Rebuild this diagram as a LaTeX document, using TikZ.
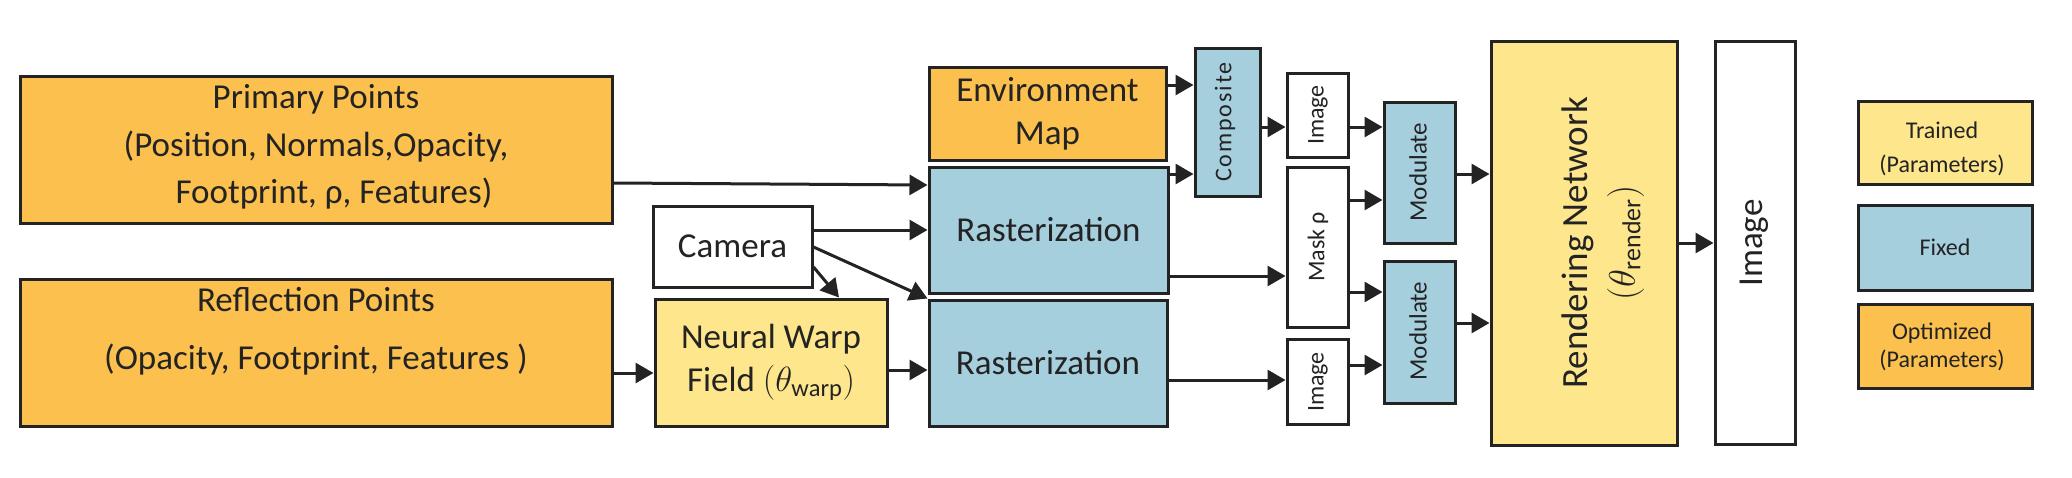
\RequirePackage{fix-cm}
\documentclass[tikz,border=0pt]{standalone}
\usepackage{fontspec}
\setmainfont{Carlito}
\usetikzlibrary{arrows.meta,calc}
\definecolor{optc}{RGB}{251,192,78}
\definecolor{trnc}{RGB}{253,230,140}
\definecolor{fixc}{RGB}{166,207,222}
\definecolor{linec}{RGB}{35,35,35}
\begin{document}
\begin{tikzpicture}[x=1pt,y=-1pt,
  box/.style={draw=linec,line width=3pt,inner sep=0pt,align=center},
  optbox/.style={box,fill=optc},
  trnbox/.style={box,fill=trnc},
  fixbox/.style={box,fill=fixc},
  whitebox/.style={box,fill=white},
  bigtxt/.style={font=\fontsize{35}{46}\selectfont,align=center,inner sep=0pt,text=linec},
  smalltxt/.style={font=\fontsize{24}{30}\selectfont,align=center,inner sep=0pt,text=linec},
  conn/.style={draw=linec,line width=3pt,-{Triangle[length=18pt,width=20pt]}}]
\useasboundingbox (0,0) rectangle (2072,477);

% left boxes
\node[optbox,minimum width=592pt,minimum height=147pt] (prim) at (316,149.5) {};
\node[bigtxt,font=\fontsize{35}{47.5}\selectfont] (primtxt) at (316,147) {Primary Points\\(Position, Normals,Opacity,\\\hspace*{36pt}Footprint, ρ, Features)};
\node[optbox,minimum width=592pt,minimum height=147pt] (refl) at (316,352.5) {};
\node[bigtxt,font=\fontsize{35}{58}\selectfont] (refltxt) at (316,331) {Reflection Points\\(Opacity, Footprint, Features )};

\node[whitebox,minimum width=159pt,minimum height=81pt,bigtxt] (cam) at (732.5,246.5) {Camera};
\node[trnbox,minimum width=232pt,minimum height=127pt,bigtxt,font=\fontsize{35}{43}\selectfont] (warp) at (771,362.5) {Neural Warp\\Field $(\theta_{\mathrm{warp}})$};

\node[optbox,minimum width=237pt,minimum height=93pt,bigtxt,font=\fontsize{35}{43}\selectfont] (env) at (1047.5,113.5) {Environment\\Map};
\node[fixbox,minimum width=239pt,minimum height=126pt,bigtxt] (ras1) at (1048.5,230) {Rasterization};
\node[fixbox,minimum width=238pt,minimum height=126pt,bigtxt] (ras2) at (1048,363) {Rasterization};

\node[fixbox,minimum width=65pt,minimum height=148pt] (comp) at (1227.5,122) {};
\node[smalltxt,rotate=90] (comptxt) at (1225,122) {\addfontfeature{LetterSpace=8}Composite};

\node[whitebox,minimum width=61pt,minimum height=84pt] (img1) at (1317.5,115) {};
\node[smalltxt,rotate=90] (img1txt) at (1318,115) {Image};
\node[whitebox,minimum width=61pt,minimum height=160pt] (mask) at (1317.5,247) {};
\node[smalltxt,rotate=90] (masktxt) at (1318,247) {Mask ρ};
\node[whitebox,minimum width=61pt,minimum height=85pt] (img2) at (1317.5,381.5) {};
\node[smalltxt,rotate=90] (img2txt) at (1318,382) {Image};

\node[fixbox,minimum width=71pt,minimum height=141pt] (mod1) at (1419.5,172.5) {};
\node[smalltxt,font=\fontsize{25}{30}\selectfont,rotate=90] (mod1txt) at (1418,172) {Modulate};
\node[fixbox,minimum width=71pt,minimum height=142pt] (mod2) at (1419.5,332) {};
\node[smalltxt,font=\fontsize{25}{30}\selectfont,rotate=90] (mod2txt) at (1418,331) {Modulate};

\node[trnbox,minimum width=186pt,minimum height=404pt] (rend) at (1584,243) {};
\node[bigtxt,font=\fontsize{37}{47}\selectfont,rotate=90] (rendtxt) at (1603,243) {Rendering Network\\$(\theta_{\mathrm{render}})$};

\node[whitebox,minimum width=80pt,minimum height=403pt] (out) at (1755,242.5) {};
\node[bigtxt,rotate=90] (outtxt) at (1754,243) {Image};

% legend
\node[trnbox,minimum width=174pt,minimum height=83pt] (ltr) at (1945,142.5) {};
\node[smalltxt,font=\fontsize{24}{34}\selectfont] (ltrtxt) at (1942,149) {Trained\\(Parameters)};
\node[fixbox,minimum width=174pt,minimum height=85pt,smalltxt] (lfx) at (1945,247.5) {Fixed};
\node[optbox,minimum width=174pt,minimum height=84pt] (lop) at (1945,346) {};
\node[smalltxt,font=\fontsize{24}{28}\selectfont] (loptxt) at (1942,347) {Optimized\\(Parameters)};

% connectors
\draw[conn] (prim.east |- 0,183) -- (ras1.west |- 0,185);
\draw[conn] (env.east |- 0,85) -- (comp.west |- 0,85);
\draw[conn] (ras1.east |- 0,174) -- (comp.west |- 0,174);
\draw[conn] (cam.east |- 0,230) -- (ras1.west |- 0,230);
\draw[conn] (cam.east |- 0,247) -- (ras2.north west);
\draw[conn] (cam.east |- 0,267) -- (839,0 |- warp.north);
\draw[conn] (refl.east |- 0,373) -- (warp.west |- 0,373);
\draw[conn] (warp.east |- 0,370) -- (ras2.west |- 0,370);
\draw[conn] (ras1.east |- 0,276) -- (mask.west |- 0,276);
\draw[conn] (ras2.east |- 0,380) -- (img2.west |- 0,380);
\draw[conn] (comp.east |- 0,127) -- (img1.west |- 0,127);
\draw[conn] (img1.east |- 0,127) -- (mod1.west |- 0,127);
\draw[conn] (mask.east |- 0,200) -- (mod1.west |- 0,200);
\draw[conn] (mask.east |- 0,292) -- (mod2.west |- 0,292);
\draw[conn] (img2.east |- 0,365) -- (mod2.west |- 0,365);
\draw[conn] (mod1.east |- 0,174) -- (rend.west |- 0,174);
\draw[conn] (mod2.east |- 0,323) -- (rend.west |- 0,323);
\draw[conn] (rend.east |- 0,243) -- (out.west |- 0,243);
\end{tikzpicture}
\end{document}
